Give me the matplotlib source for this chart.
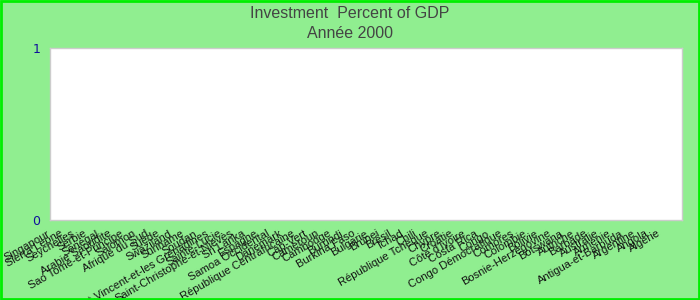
import matplotlib
matplotlib.use("Agg")
import matplotlib.pyplot as plt
import numpy as np
from matplotlib.transforms import ScaledTranslation

countries = [
    "Singapour", "Sierra Leone", "Seychelles", "Serbie", "Sénégal",
    "Arabie Saoudite", "Sao Tomé-et-Principe", "Salomon", "Afrique du Sud",
    "Suède", "Swaziland", "Suriname", "Soudan",
    "Saint-Vincent-et-les Grenadines", "Sainte-Lucie",
    "Saint-Christophe-et-Niévès", "Sri Lanka", "Espagne", "Samoa Occidental",
    "Danemark", "République Centrafricaine", "Cap-Vert", "Cameroun",
    "Cambodge", "Burundi", "Burkina Faso", "Bulgarie", "Brunei", "Brésil",
    "Tchad", "Chili", "République Tchèque", "Chypre", "Croatie",
    "Côte d'Ivoire", "Costa Rica", "Congo", "Congo Démocratique", "Comores",
    "Colombie", "Bolivie", "Bosnie-Herzégovine", "Botswana", "Autriche",
    "Barbade", "Australie", "Arménie", "Antigua-et-Barbuda", "Argentine",
    "Angola", "Algérie",
]
nan = float("nan")
values = [nan, nan, nan, nan, nan, nan, nan, nan, nan, nan, nan, nan, nan,
          nan, nan, nan, nan, nan, nan, nan, nan, nan, nan, nan, nan, nan,
          nan, nan, nan, nan, nan, nan, nan, nan, nan, nan, nan, nan, nan,
          nan, nan, nan, nan, nan, nan, nan, nan, nan, nan, nan, nan]
yticks = [0, 1]

plt.rcParams['font.family'] = ['Liberation Sans', 'DejaVu Sans']

fig = plt.figure(figsize=(7, 3), dpi=100, facecolor='#90ee90')
ax = fig.add_axes([50/700, 1-220/300, 632/700, 172/300])
ax.set_facecolor('white')
x = np.arange(len(countries))
ax.bar(x, values, color='#4472c4')
ax.set_xlim(-0.5, 51.3)
ax.set_ylim(0, 1)
ax.set_yticks(yticks)
ax.set_yticklabels([str(v) for v in yticks], color='#10109a', fontsize=9,
                   family='DejaVu Sans')
ax.tick_params(axis='y', length=0, pad=7)
ax.set_xticks(x)
ax.set_xticklabels(countries, rotation=30, ha='right', rotation_mode='anchor',
                   fontsize=8, color='#111111')
ax.tick_params(axis='x', length=0, pad=6)
off = ScaledTranslation(-9/100, 0, fig.dpi_scale_trans)
for lbl in ax.get_xticklabels():
    lbl.set_transform(lbl.get_transform() + off)
for s in ax.spines.values():
    s.set_color('#cccccc')
    s.set_linewidth(1)

fig.text(0.5, 1-13/300, "Investment  Percent of GDP", ha='center', va='center',
         fontsize=11.5, color='#444444')
fig.text(0.5, 1-33/300, "Année 2000", ha='center', va='center',
         fontsize=11.5, color='#444444')

border = plt.Rectangle((0.001, 0.002), 0.998, 0.996, transform=fig.transFigure,
                       fill=False, edgecolor='#00ee00', linewidth=2)
fig.patches.append(border)

fig.savefig("out.png", dpi=100, facecolor=fig.get_facecolor())
